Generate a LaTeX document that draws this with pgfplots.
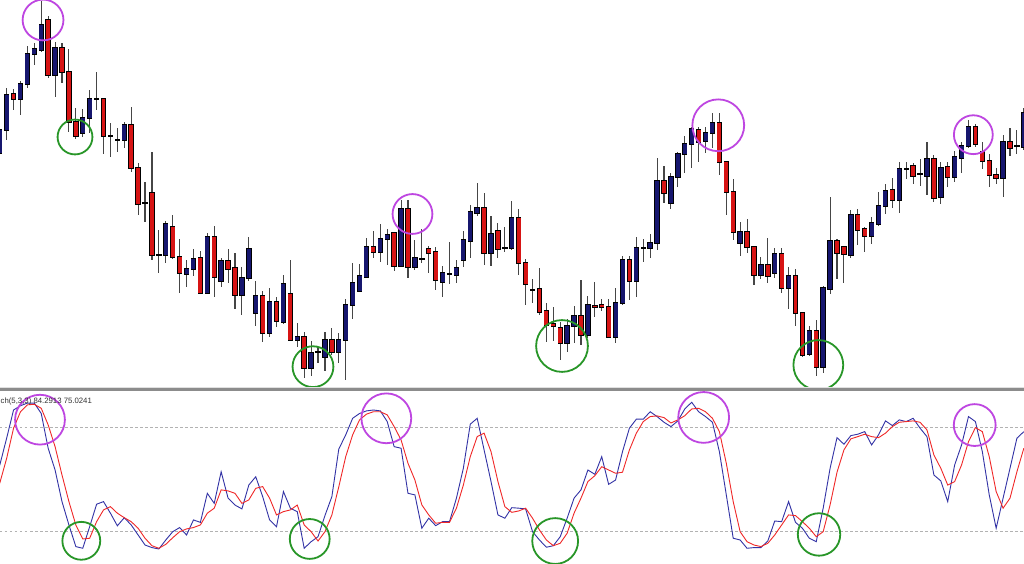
\documentclass[border=0pt]{standalone}
\usepackage{pgfplots}
\pgfplotsset{compat=1.18}
\usepackage{pgfplotstable}
\usepackage{fontspec}
\setmainfont{Liberation Sans}
\definecolor{bullc}{RGB}{22,22,110}
\definecolor{bearc}{RGB}{215,20,20}
\definecolor{wickc}{RGB}{70,70,70}
\definecolor{kcol}{RGB}{50,50,165}
\definecolor{dcol}{RGB}{240,40,40}
\definecolor{purp}{RGB}{190,70,225}
\definecolor{grn}{RGB}{40,150,40}
\pgfplotsset{candlebar/.style={only marks, mark=*, mark size=0pt,
  mark options={draw=none, fill=none}, forget plot}}

% candles: index, open, high, low, close
\pgfplotstableread{
i o h l c
0 237 263 234 260
1 260 302 250 295
2 296 301 280 291
3 291 309 275 306
4 306 344 302 336
5 336 347 325 341
6 340 389 338 365
7 370 374 312 315
8 315 348 293 342
9 342 347 307 318
10 318 341 258 268
11 268 282 251 254
12 257 281 253 272
13 272 300 257 291
14 291 318 280 291
15 291 292 236 254
16 254 267 233 254
17 250 262 238 250
18 250 268 242 265
19 265 283 218 222
20 222 227 175 186
21 187 208 168 187
22 197 238 130 135
23 135 160 117 135
24 135 169 127 166
25 163 175 131 133
26 133 151 97 117
27 116 130 103 121
28 121 141 114 131
29 132 139 97 97
30 97 157 97 153
31 153 164 93 113
32 109 132 103 129
33 129 141 107 121
34 122 137 81 95
35 95 123 75 112
36 112 153 109 141
37 77 109 64 94
38 94 99 48 57
39 57 102 53 88
40 88 93 63 69
41 68 115 66 106
42 96 130 49 50
43 50 67 43 53
44 53 58 12 22
45 22 49 14 37
46 38 43 27 38
47 33 58 19 50
48 50 62 35 38
49 38 57 27 50
50 50 91 10 85
51 85 127 71 107
52 99 126 98 114
53 113 152 112 143
54 143 159 132 138
55 138 166 128 151
56 151 161 125 155
57 157 157 119 124
58 124 190 123 181
59 181 190 112 123
60 123 150 120 132
61 131 161 127 131
62 141 144 117 137
63 138 143 100 110
64 108 124 93 117
65 116 148 106 116
66 115 130 107 122
67 130 159 123 150
68 149 185 132 178
69 177 207 174 182
70 182 197 125 137
71 137 174 124 156
72 159 167 132 141
73 142 163 138 142
74 142 189 140 172
75 172 181 115 127
76 127 131 85 106
77 100 111 87 100
78 101 122 75 78
79 79 87 48 65
80 66 83 49 64
81 62 68 30 47
82 47 71 38 64
83 64 84 47 74
84 74 110 45 55
85 55 94 52 85
86 84 108 73 83
87 85 91 79 83
88 83 91 52 53
89 53 102 47 87
90 87 134 85 130
91 130 134 90 109
92 109 153 93 142
93 142 151 128 142
94 142 156 132 147
95 147 232 140 209
96 209 224 187 197
97 187 217 181 213
98 213 238 203 236
99 236 254 217 246
100 246 263 222 261
101 260 263 228 248
102 249 263 237 257
103 257 277 242 267
104 267 277 215 228
105 228 229 175 198
106 198 211 150 158
107 147 168 134 158
108 158 171 137 143
109 143 144 105 115
110 115 133 111 125
111 125 152 107 114
112 117 142 112 136
113 136 142 97 102
114 102 123 81 114
115 114 121 64 77
116 77 77 33 35
117 36 64 34 59
118 59 70 14 23
119 23 104 17 102
120 101 193 96 149
121 149 151 111 137
122 143 144 107 136
123 135 180 132 175
124 175 181 145 160
125 161 163 138 154
126 154 173 146 167
127 166 198 164 184
128 184 206 176 199
129 200 212 182 190
130 190 228 177 221
131 221 228 211 221
132 224 227 206 214
133 216 231 204 216
134 214 248 195 231
135 231 235 188 192
136 193 228 186 222
137 223 228 203 213
138 213 239 208 233
139 232 248 217 244
140 244 270 242 263
141 263 266 243 246
142 238 248 221 229
143 229 236 203 215
144 215 222 206 212
145 212 255 193 248
146 248 262 234 242
147 244 260 236 244
148 243 282 240 277
}\candles

% stochastic oscillator: %K and %D
\pgfplotstableread{
i K D
0 58 47.6
1 73.7 62
2 90 79.5
3 92.5 89
4 94 93
5 94 93.3
6 88 91
7 67.9 81.4
8 55.3 68.8
9 37 52.4
10 23.5 37
11 11 23.5
12 10 15.4
13 22.5 15.8
14 35.5 25.4
15 37 32.2
16 30.3 34.1
17 23 30.3
18 27.7 27.7
19 23.5 25.4
20 17.7 21.6
21 11.9 15.8
22 10.4 11.5
23 9.6 10
24 14.8 12.3
25 19.6 16.1
26 22 19.6
27 17.7 21.2
28 26.4 22
29 25 23.5
30 41.8 30.3
31 36 33.2
32 54.3 43.8
33 39 43.2
34 35 41.8
35 32.8 36
36 46.6 38
37 51.4 44.7
38 39.9 45.7
39 26.4 39
40 22.5 29.3
41 42.8 31.2
42 33.2 32.2
43 31.2 35
44 10 23.5
45 13.8 19.6
46 16.7 14.2
47 28.9 19.6
48 39.9 29.3
49 67.4 45.6
50 75.6 63
51 85.2 75.6
52 88 84.3
53 89.5 87.6
54 90 89
55 89.5 89
56 83.3 87.2
57 68.8 80.4
58 67.9 72.7
59 41.8 59.2
60 40.9 49.5
61 21.6 35.1
62 27.4 29.3
63 23.1 24.5
64 25.4 25
65 25.4 25
66 39 33.2
67 56.3 46.6
68 81.8 63
69 85.2 74.6
70 66.9 76.6
71 48.6 65.9
72 29.3 48.6
73 27.4 34.1
74 33.5 30.8
75 33.2 31.6
76 32.8 33.2
77 19.6 27.4
78 14.8 20.6
79 10.6 14.8
80 11.5 11.5
81 16.7 12.9
82 27.4 18.7
83 39 30.3
84 43.8 39
85 55.3 48.6
86 52.8 52
87 63 57.2
88 47 55.3
89 49.5 53.4
90 65.9 54
91 79.5 66.9
92 84.7 76.6
93 84.7 83.3
94 89 86.2
95 86.2 86.6
96 82.9 85.6
97 80.4 82.5
98 83.7 84.3
99 90.6 86.7
100 94.5 90.6
101 89 91
102 86.2 89
103 82.9 85.2
104 65.9 77.5
105 40.9 59.2
106 15.8 37
107 14.8 19.6
108 10 13.8
109 10.4 11.9
110 10.4 11
111 14.2 12.9
112 25.8 17.7
113 25.4 23.5
114 37 29.3
115 25 28.9
116 21.6 25.4
117 15.8 21.6
118 13.8 16.7
119 33.2 19.6
120 56.3 35.1
121 74 54
122 70.2 66.9
123 75.2 73.3
124 76 74.6
125 77.5 76
126 69.8 74.6
127 75.6 74
128 83.7 76.6
129 81 80.4
130 84.3 82.9
131 83.3 83.3
132 85.2 83.7
133 79.5 82.9
134 74.6 78.5
135 52.4 64
136 49 56.3
137 37 46.6
138 58.2 48.6
139 69.8 58.2
140 86.2 71.7
141 83.3 79.8
142 65.9 77.5
143 40.9 63
144 21.6 42.8
145 39 33.2
146 56.3 39
147 73.7 54.3
148 77.5 67.9
}\stoch

\begin{document}
\begin{tikzpicture}
\path[use as bounding box] (0bp,0bp) rectangle (1024bp,564bp);
\fill[white] (0bp,0bp) rectangle (1024bp,564bp);

% ---------------- price panel ----------------
\begin{axis}[
  at={(0bp,564bp)}, anchor=north west,
  scale only axis, width=1024bp, height=390bp,
  hide axis, xmin=0.04, xmax=148.02, ymin=0, ymax=390,
  clip=true,
]
% wicks
\addplot[candlebar,
  error bars/.cd, y dir=plus, y explicit, error mark=none,
  error bar style={draw=wickc, line width=1.1bp}]
  table[x=i, y=l, y error plus expr=\thisrow{h}-\thisrow{l}] {\candles};
% body outlines
\addplot[candlebar,
  error bars/.cd, y dir=plus, y explicit, error mark=none,
  error bar style={draw=black, line width=5.4bp}]
  table[x=i, y expr={min(\thisrow{o},\thisrow{c})-0.7},
        y error plus expr={abs(\thisrow{c}-\thisrow{o})+1.4}] {\candles};
% bullish bodies
\addplot[candlebar,
  restrict expr to domain={\thisrow{c}-\thisrow{o}}{0.01:1000},
  error bars/.cd, y dir=plus, y explicit, error mark=none,
  error bar style={draw=bullc, line width=4bp}]
  table[x=i, y=o, y error plus expr={\thisrow{c}-\thisrow{o}}] {\candles};
% bearish bodies
\addplot[candlebar,
  restrict expr to domain={\thisrow{o}-\thisrow{c}}{0.01:1000},
  error bars/.cd, y dir=plus, y explicit, error mark=none,
  error bar style={draw=bearc, line width=3.8bp}]
  table[x=i, y=c, y error plus expr={\thisrow{o}-\thisrow{c}}] {\candles};
% annotation circles
\addplot[only marks, mark=o, mark size=20.5pt, purp, mark options={line width=1.8bp}] coordinates {(6.26,370)};
\addplot[only marks, mark=o, mark size=20pt, purp, mark options={line width=1.8bp}] coordinates {(59.65,176)};
\addplot[only marks, mark=o, mark size=26pt, purp, mark options={line width=1.8bp}] coordinates {(103.84,264.7)};
\addplot[only marks, mark=o, mark size=19.5pt, purp, mark options={line width=1.8bp}] coordinates {(140.7,255.3)};
\addplot[only marks, mark=o, mark size=17.5pt, grn, mark options={line width=1.8bp}] coordinates {(10.88,253)};
\addplot[only marks, mark=o, mark size=20.5pt, grn, mark options={line width=1.8bp}] coordinates {(45.27,23.3)};
\addplot[only marks, mark=o, mark size=26pt, grn, mark options={line width=1.8bp}] coordinates {(81.26,44)};
\addplot[only marks, mark=o, mark size=25pt, grn, mark options={line width=1.8bp}] coordinates {(118.3,25)};
\end{axis}

% separator between panels
\fill[black!12] (0bp,175.5bp) rectangle (1024bp,176.5bp);
\fill[black!45] (0bp,173bp) rectangle (1024bp,175.5bp);

% ---------------- stochastic panel ----------------
\begin{axis}[
  at={(0bp,0bp)}, anchor=south west,
  scale only axis, width=1024bp, height=173bp,
  hide axis, xmin=0.04, xmax=148.02, ymin=0.91, ymax=101,
  clip=true,
]
\addplot[black!30, line width=0.7bp, dash pattern=on 2.5bp off 2.5bp, forget plot] coordinates {(0.04,80) (148.02,80)};
\addplot[black!30, line width=0.7bp, dash pattern=on 2.5bp off 2.5bp, forget plot] coordinates {(0.04,20) (148.02,20)};
\addplot[kcol, line width=0.9bp, mark=none] table[x=i, y=K] {\stoch};
\addplot[dcol, line width=0.9bp, mark=none] table[x=i, y=D] {\stoch};
\addplot[only marks, mark=o, mark size=25pt, purp, mark options={line width=1.8bp}] coordinates {(5.82,84.4)};
\addplot[only marks, mark=o, mark size=25pt, purp, mark options={line width=1.8bp}] coordinates {(55.87,85.2)};
\addplot[only marks, mark=o, mark size=25.5pt, purp, mark options={line width=1.8bp}] coordinates {(101.73,85.7)};
\addplot[only marks, mark=o, mark size=21pt, purp, mark options={line width=1.8bp}] coordinates {(140.9,81.3)};
\addplot[only marks, mark=o, mark size=19pt, grn, mark options={line width=1.8bp}] coordinates {(11.79,14.33)};
\addplot[only marks, mark=o, mark size=20pt, grn, mark options={line width=1.8bp}] coordinates {(44.8,15.4)};
\addplot[only marks, mark=o, mark size=23pt, grn, mark options={line width=1.8bp}] coordinates {(80.27,14.2)};
\addplot[only marks, mark=o, mark size=21.3pt, grn, mark options={line width=1.8bp}] coordinates {(118.4,18.0)};
\end{axis}

\node[anchor=base west, inner sep=0pt, text=black!80, font=\fontsize{7.8}{9}\selectfont] at (0.5bp,160bp) {ch(5,3,3) 84.2913 75.0241};
\end{tikzpicture}
\end{document}
